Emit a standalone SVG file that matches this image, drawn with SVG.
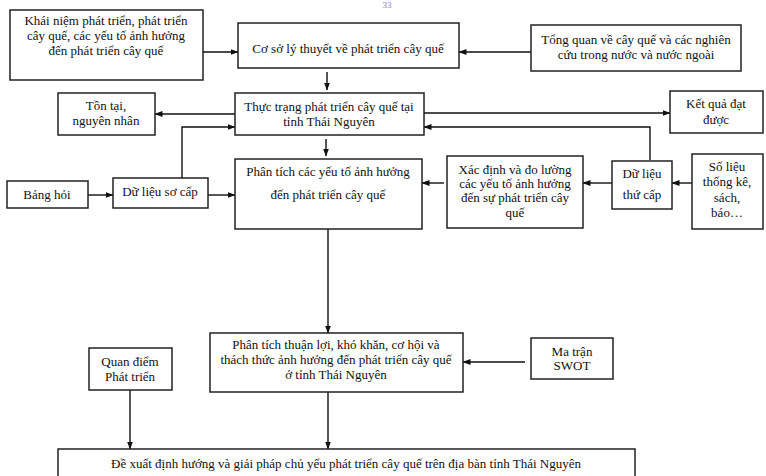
<svg xmlns="http://www.w3.org/2000/svg" width="766" height="476" viewBox="0 0 766 476">
<defs>
<marker id="ah" markerWidth="8" markerHeight="6" refX="7.5" refY="3" orient="auto" markerUnits="userSpaceOnUse">
<path d="M0,0 L8,3 L0,6 Z" fill="#111"/>
</marker>
<style>
rect{fill:#fff;stroke:#222;stroke-width:1.5}
text{font-family:"Liberation Serif","Times New Roman",serif;font-size:13px;fill:#111;text-anchor:middle}
#connectors path{fill:none;stroke:#111;stroke-width:1.4;marker-end:url(#ah)}
</style>
</defs>
<rect x="0" y="0" width="766" height="476" style="fill:#fff;stroke:none"/>
<text x="387" y="8" style="fill:#888;font-size:9px">33</text>

<g id="connectors">
<path d="M203,52 H238"/>
<path d="M531,52 H459"/>
<path d="M327,72 V90"/>
<path d="M235,114 H155"/>
<path d="M424,113 H670"/>
<path d="M650,160 V127 H424"/>
<path d="M182,178 V127 H235"/>
<path d="M88,195 H113"/>
<path d="M208,195 H235"/>
<path d="M326,139 V156"/>
<path d="M444,183 H422"/>
<path d="M612,183 H583"/>
<path d="M692,183 H672"/>
<path d="M328,229 V333"/>
<path d="M525,362 H463"/>
<path d="M328,392 V449"/>
<path d="M130,390 V449"/>
</g>

<g id="n-khainiem">
<rect x="10" y="10" width="193" height="70"/>
<text x="106" y="25">Khái niệm phát triển, phát triển</text>
<text x="106" y="40">cây quế, các yếu tố ảnh hưởng</text>
<text x="106" y="55">đến phát triển cây quế</text>
</g>

<g id="n-coso">
<rect x="238" y="23" width="221" height="45"/>
<text x="348" y="53">Cơ sở lý thuyết về phát triển cây quế</text>
</g>

<g id="n-tongquan">
<rect x="531" y="25" width="210" height="46"/>
<text x="636" y="44">Tổng quan về cây quế và các nghiên</text>
<text x="636" y="59">cứu trong nước và nước ngoài</text>
</g>

<g id="n-thuctrang">
<rect x="235" y="93" width="189" height="42"/>
<text x="329" y="111">Thực trạng phát triển cây quế tại</text>
<text x="329" y="126">tỉnh Thái Nguyên</text>
</g>

<g id="n-tontai">
<rect x="58" y="93" width="97" height="42"/>
<text x="106" y="110">Tồn tại,</text>
<text x="106" y="125">nguyên nhân</text>
</g>

<g id="n-ketqua">
<rect x="670" y="91" width="93" height="42"/>
<text x="716" y="108">Kết quả đạt</text>
<text x="716" y="124">được</text>
</g>

<g id="n-banghoi">
<rect x="7" y="181" width="81" height="27"/>
<text x="47" y="199">Bảng hỏi</text>
</g>

<g id="n-soCap">
<rect x="113" y="178" width="95" height="30"/>
<text x="160" y="196">Dữ liệu sơ cấp</text>
</g>

<g id="n-phantich">
<rect x="235" y="159" width="187" height="70"/>
<text x="328" y="176">Phân tích các yếu tố ảnh hưởng</text>
<text x="328" y="199">đến phát triển cây quế</text>
</g>

<g id="n-xacdinh">
<rect x="447" y="156" width="136" height="72"/>
<text x="515" y="174">Xác định và đo lường</text>
<text x="515" y="188">các yếu tố ảnh hưởng</text>
<text x="515" y="202">đến sự phát triển cây</text>
<text x="515" y="217">quế</text>
</g>

<g id="n-thucap">
<rect x="612" y="161" width="60" height="48"/>
<text x="642" y="178">Dữ liệu</text>
<text x="642" y="199">thứ cấp</text>
</g>

<g id="n-solieu">
<rect x="692" y="154" width="71" height="75"/>
<text x="727" y="171">Số liệu</text>
<text x="727" y="186">thống kê,</text>
<text x="727" y="202">sách,</text>
<text x="727" y="217">báo…</text>
</g>

<g id="n-thuanloi">
<rect x="210" y="333" width="253" height="59"/>
<text x="336" y="349">Phân tích thuận lợi, khó khăn, cơ hội và</text>
<text x="336" y="364">thách thức ảnh hưởng đến phát triển cây quế</text>
<text x="336" y="379">ở tỉnh Thái Nguyên</text>
</g>

<g id="n-swot">
<rect x="531" y="338" width="82" height="41"/>
<text x="572" y="356">Ma trận</text>
<text x="572" y="370">SWOT</text>
</g>

<g id="n-quandiem">
<rect x="89" y="348" width="83" height="42"/>
<text x="130" y="366">Quan điểm</text>
<text x="130" y="381">Phát triển</text>
</g>

<g id="n-dexuat">
<rect x="58" y="449" width="577" height="40"/>
<text x="346" y="468">Đề xuất định hướng và giải pháp chủ yếu phát triển cây quế trên địa bàn tỉnh Thái Nguyên</text>
</g>
</svg>
